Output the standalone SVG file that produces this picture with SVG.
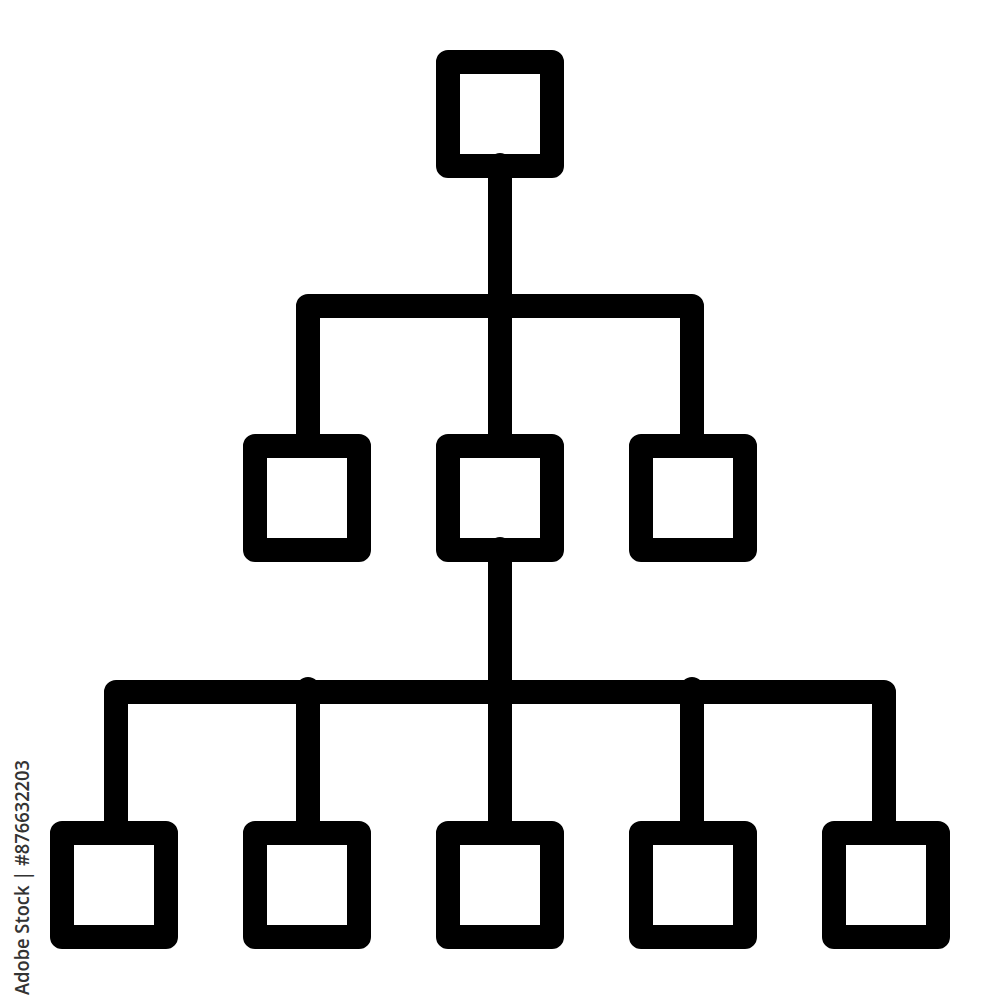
<svg xmlns="http://www.w3.org/2000/svg" width="1000" height="1000" viewBox="0 0 1000 1000">
<style>
.node rect{fill:none;stroke:#000;stroke-width:24;stroke-linejoin:round}
.conn path{fill:none;stroke:#000;stroke-width:24;stroke-linecap:round;stroke-linejoin:round}
.wm{font-family:"Open Sans","Liberation Sans",sans-serif;font-size:19px;font-weight:600;fill:#333}
</style>
<rect width="1000" height="1000" fill="#fff"/>
<g id="connectors" class="conn">
<path d="M500,165 V446"/>
<path d="M308,446 V306 H692 V446"/>
<path d="M500,549 V833"/>
<path d="M116,833 V692 H884 V833"/>
<path d="M308,689 V833"/>
<path d="M692,689 V833"/>
</g>
<g id="root" class="node"><rect x="448" y="62" width="104" height="104"/></g>
<g id="mid-left" class="node"><rect x="255" y="446" width="104" height="104"/></g>
<g id="mid-center" class="node"><rect x="448" y="446" width="104" height="104"/></g>
<g id="mid-right" class="node"><rect x="641" y="446" width="104" height="104"/></g>
<g id="leaf-1" class="node"><rect x="62" y="833" width="104" height="104"/></g>
<g id="leaf-2" class="node"><rect x="255" y="833" width="104" height="104"/></g>
<g id="leaf-3" class="node"><rect x="448" y="833" width="104" height="104"/></g>
<g id="leaf-4" class="node"><rect x="641" y="833" width="104" height="104"/></g>
<g id="leaf-5" class="node"><rect x="834" y="833" width="104" height="104"/></g>
<text class="wm" transform="translate(29,995) rotate(-90)" textLength="235" lengthAdjust="spacingAndGlyphs">Adobe Stock | #876632203</text>
</svg>
